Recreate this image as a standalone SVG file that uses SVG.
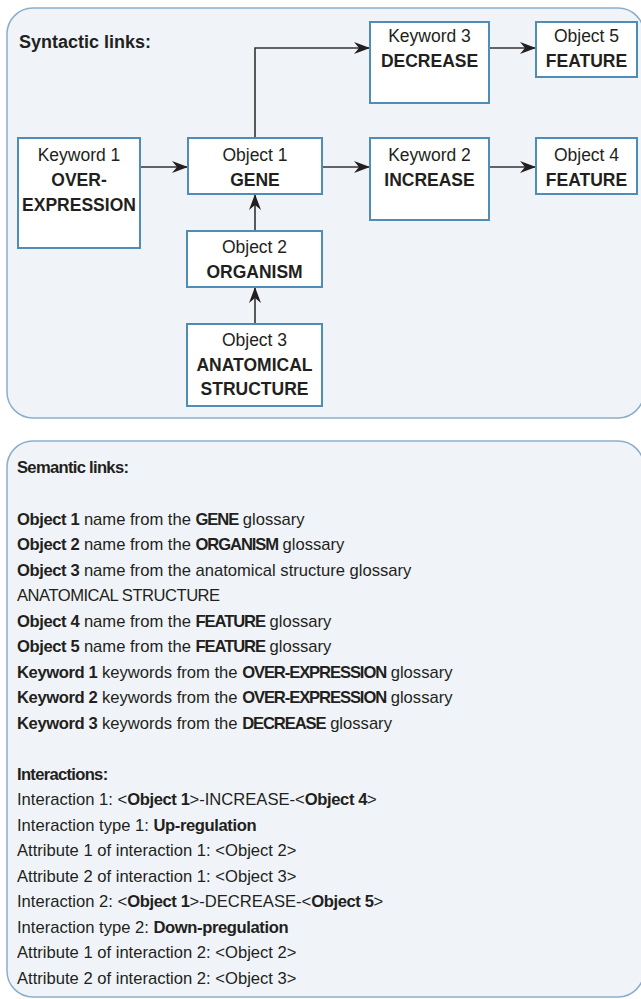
<svg xmlns="http://www.w3.org/2000/svg" width="641" height="999" viewBox="0 0 641 999">
<style>
.panel{fill:#f0f4f8;stroke:#8aaecd;stroke-width:1.5}
.box{fill:#ffffff;stroke:#4f8db6;stroke-width:2}
.t{font-family:"Liberation Sans",Arial,sans-serif;font-size:17.5px;fill:#231f20;text-anchor:middle}
.b{font-weight:bold}
.p{font-family:"Liberation Sans",Arial,sans-serif;font-size:16.6px;fill:#231f20}
.p .b{letter-spacing:-0.4px}
.p .bc{font-weight:bold;letter-spacing:-1.1px}
.h{font-family:"Liberation Sans",Arial,sans-serif;font-size:18px;font-weight:bold;fill:#231f20}
.hs{font-family:"Liberation Sans",Arial,sans-serif;font-size:16.6px;font-weight:bold;fill:#231f20;letter-spacing:-0.7px}
.c{fill:none;stroke:#333333;stroke-width:1.6}
</style>
<defs>
<marker id="arr" markerWidth="16" markerHeight="12" refX="16" refY="6" orient="auto" markerUnits="userSpaceOnUse">
<path d="M0,0 L16,6 L0,12 L5,6 z" fill="#231f20"/>
</marker>
</defs>
<rect class="panel" x="7" y="8" width="637" height="410" rx="26" ry="26"/>
<rect class="panel" x="7" y="441" width="637" height="556" rx="26" ry="26"/>
<text class="h" x="19" y="48">Syntactic links:</text>
<g id="connectors">
<line class="c" x1="140" y1="167" x2="188" y2="167" marker-end="url(#arr)"/>
<line class="c" x1="322" y1="167" x2="370" y2="167" marker-end="url(#arr)"/>
<line class="c" x1="489" y1="167" x2="536" y2="167" marker-end="url(#arr)"/>
<path class="c" d="M255,138 V48 H370" marker-end="url(#arr)"/>
<line class="c" x1="489" y1="48" x2="536" y2="48" marker-end="url(#arr)"/>
<line class="c" x1="255" y1="231" x2="255" y2="194" marker-end="url(#arr)"/>
<line class="c" x1="255" y1="324" x2="255" y2="287" marker-end="url(#arr)"/>
</g>
<g id="keyword1">
<rect class="box" x="18" y="138" width="122" height="110"/>
<text class="t" x="79" y="161">Keyword 1</text>
<text class="t b" x="79" y="186">OVER-</text>
<text class="t b" x="79" y="211">EXPRESSION</text>
</g>
<g id="object1">
<rect class="box" x="188" y="138" width="134" height="56"/>
<text class="t" x="255" y="161">Object 1</text>
<text class="t b" x="255" y="186">GENE</text>
</g>
<g id="keyword3">
<rect class="box" x="370" y="22" width="119" height="81"/>
<text class="t" x="429.5" y="42">Keyword 3</text>
<text class="t b" x="429.5" y="67">DECREASE</text>
</g>
<g id="object5">
<rect class="box" x="536" y="22" width="101" height="55"/>
<text class="t" x="586.5" y="42">Object 5</text>
<text class="t b" x="586.5" y="67">FEATURE</text>
</g>
<g id="keyword2">
<rect class="box" x="370" y="138" width="119" height="82"/>
<text class="t" x="429.5" y="161">Keyword 2</text>
<text class="t b" x="429.5" y="186">INCREASE</text>
</g>
<g id="object4">
<rect class="box" x="536" y="138" width="101" height="56"/>
<text class="t" x="586.5" y="161">Object 4</text>
<text class="t b" x="586.5" y="186">FEATURE</text>
</g>
<g id="object2">
<rect class="box" x="187" y="231" width="135" height="56"/>
<text class="t" x="254.5" y="253">Object 2</text>
<text class="t b" x="254.5" y="278">ORGANISM</text>
</g>
<g id="object3">
<rect class="box" x="187" y="324" width="135" height="82"/>
<text class="t" x="254.5" y="346">Object 3</text>
<text class="t b" x="254.5" y="371">ANATOMICAL</text>
<text class="t b" x="254.5" y="395">STRUCTURE</text>
</g>
<g id="semantic">
<text class="hs" x="17" y="473">Semantic links:</text>
<text class="p" x="17" y="524.5"><tspan class="b">Object 1</tspan> name from the <tspan class="bc">GENE</tspan> glossary</text>
<text class="p" x="17" y="550"><tspan class="b">Object 2</tspan> name from the <tspan class="bc">ORGANISM</tspan> glossary</text>
<text class="p" x="17" y="575.5"><tspan class="b">Object 3</tspan> name from the anatomical structure glossary</text>
<text class="p" x="17" y="601" letter-spacing="-0.5">ANATOMICAL STRUCTURE</text>
<text class="p" x="17" y="626.5"><tspan class="b">Object 4</tspan> name from the <tspan class="bc">FEATURE</tspan> glossary</text>
<text class="p" x="17" y="652"><tspan class="b">Object 5</tspan> name from the <tspan class="bc">FEATURE</tspan> glossary</text>
<text class="p" x="17" y="677.5"><tspan class="b">Keyword 1</tspan> keywords from the <tspan class="bc">OVER-EXPRESSION</tspan> glossary</text>
<text class="p" x="17" y="703"><tspan class="b">Keyword 2</tspan> keywords from the <tspan class="bc">OVER-EXPRESSION</tspan> glossary</text>
<text class="p" x="17" y="728.5"><tspan class="b">Keyword 3</tspan> keywords from the <tspan class="bc">DECREASE</tspan> glossary</text>
<text class="hs" x="17" y="779.5">Interactions:</text>
<text class="p" x="17" y="805">Interaction 1: &lt;<tspan class="b">Object 1</tspan>&gt;-INCREASE-&lt;<tspan class="b">Object 4</tspan>&gt;</text>
<text class="p" x="17" y="830.5">Interaction type 1: <tspan class="b">Up-regulation</tspan></text>
<text class="p" x="17" y="856">Attribute 1 of interaction 1: &lt;Object 2&gt;</text>
<text class="p" x="17" y="881.5">Attribute 2 of interaction 1: &lt;Object 3&gt;</text>
<text class="p" x="17" y="907">Interaction 2: &lt;<tspan class="b">Object 1</tspan>&gt;-DECREASE-&lt;<tspan class="b">Object 5</tspan>&gt;</text>
<text class="p" x="17" y="932.5">Interaction type 2: <tspan class="b">Down-pregulation</tspan></text>
<text class="p" x="17" y="958">Attribute 1 of interaction 2: &lt;Object 2&gt;</text>
<text class="p" x="17" y="983.5">Attribute 2 of interaction 2: &lt;Object 3&gt;</text>
</g>
</svg>
